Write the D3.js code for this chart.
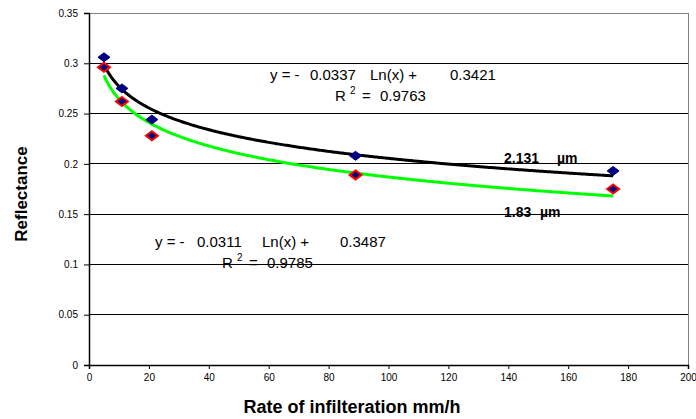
<!DOCTYPE html>
<html>
<head>
<meta charset="utf-8">
<script src="https://cdn.jsdelivr.net/npm/d3@7"></script>
<style>
    body { margin: 0; background: #fff; }
    text { font-family: "Liberation Sans", Arial, sans-serif; }
</style>
</head>
<body>
<div id="chart"></div>
<script>
"use strict";

// Rate of infiltration (mm/h) and reflectance at two wavelengths
const rates = [5, 11, 21, 89, 175];
const refl2131 = [0.306, 0.275, 0.244, 0.208, 0.193];
const refl183 = [0.296, 0.262, 0.228, 0.189, 0.175];

// Logarithmic trend lines, y = a Ln(x) + b, as printed on the chart
const trendBlack = { a: -0.0311, b: 0.3487, r2: 0.9785 };
const trendGreen = { a: -0.0337, b: 0.3421, r2: 0.9763 };

const xTicks = [0, 20, 40, 60, 80, 100, 120, 140, 160, 180, 200];
const yTicks = [0, 0.05, 0.1, 0.15, 0.2, 0.25, 0.3, 0.35];

const width = 696, height = 419;
const margin = { left: 89, right: 8, top: 13, bottom: 54 };

const svg = d3.select("#chart").append("svg")
    .attr("width", width)
    .attr("height", height);

const x = d3.scaleLinear().domain([0, 200]).range([margin.left, width - margin.right]);
const y = d3.scaleLinear().domain([0, 0.35]).range([height - margin.bottom, margin.top]);

// gridlines
svg.append("g").selectAll("line")
    .data(yTicks.filter(d => d > 0 && d < 0.35))
    .enter().append("line")
    .attr("x1", x(0)).attr("x2", x(200))
    .attr("y1", d => y(d)).attr("y2", d => y(d))
    .style("stroke", "#000")
    .style("stroke-width", 1)
    .attr("shape-rendering", "crispEdges");

// plot border (top / right in grey)
svg.append("path")
    .attr("d", `M${x(0)},${y(0.35)}H${x(200)}V${y(0)}`)
    .style("fill", "none")
    .style("stroke", "#808080")
    .style("stroke-width", 1)
    .attr("shape-rendering", "crispEdges");

const xAxis = svg.append("g")
    .attr("transform", `translate(0,${y(0)})`)
    .call(d3.axisBottom(x).tickValues(xTicks).tickSize(4).tickPadding(5).tickFormat(d3.format("d")));

const yAxis = svg.append("g")
    .attr("transform", `translate(${x(0)},0)`)
    .call(d3.axisLeft(y).tickValues(yTicks).tickSize(5).tickPadding(6).tickFormat(d => String(d)));

[xAxis, yAxis].forEach(ax => {
    ax.select(".domain").style("stroke", "#000").style("stroke-width", 1.5);
    ax.selectAll(".tick line").style("stroke", "#000");
    ax.selectAll("text")
        .style("font-family", "'Liberation Sans', Arial, sans-serif")
        .style("font-size", "10px")
        .style("fill", "#000");
});

// trend curves
function trendPoints(t) {
    const xs = d3.range(rates[0], rates[rates.length - 1] + 0.01, 0.5);
    return xs.map(v => [v, t.a * Math.log(v) + t.b]);
}

const line = d3.line()
    .x(d => x(d[0]))
    .y(d => y(d[1]));

svg.append("path")
    .datum(trendPoints(trendGreen))
    .attr("d", line)
    .style("fill", "none")
    .style("stroke", "#00ff00")
    .style("stroke-width", 3);

svg.append("path")
    .datum(trendPoints(trendBlack))
    .attr("d", line)
    .style("fill", "none")
    .style("stroke", "#000")
    .style("stroke-width", 3);

// wide diamond marker, like the spreadsheet one
const wideDiamond = {
    draw(ctx) {
        ctx.moveTo(0, -4.5);
        ctx.lineTo(6, 0);
        ctx.lineTo(0, 4.5);
        ctx.lineTo(-6, 0);
        ctx.closePath();
    }
};
const diamond = d3.symbol().type(wideDiamond);

svg.append("g").selectAll("path")
    .data(rates.map((r, i) => [r, refl183[i]]))
    .enter().append("path")
    .attr("d", diamond)
    .attr("transform", d => `translate(${x(d[0])},${y(d[1])})`)
    .style("fill", "#000080")
    .style("stroke", "#ff0000")
    .style("stroke-width", 2);

svg.append("g").selectAll("path")
    .data(rates.map((r, i) => [r, refl2131[i]]))
    .enter().append("path")
    .attr("d", diamond)
    .attr("transform", d => `translate(${x(d[0])},${y(d[1])})`)
    .style("fill", "#000080")
    .style("stroke", "#000080")
    .style("stroke-width", 1);

// equation labels
function equation(px, py, t, offs) {
    const g = svg.append("g").style("font-size", "15px").style("fill", "#000");
    const eq = g.append("text").attr("y", py);
    eq.append("tspan").attr("x", px).text("y = -");
    eq.append("tspan").attr("x", px + offs[0]).text(Math.abs(t.a).toFixed(4));
    eq.append("tspan").attr("x", px + offs[1]).text("Ln(x) +");
    eq.append("tspan").attr("x", px + offs[2]).text(t.b.toFixed(4));

    const r = g.append("text").attr("y", py + 21);
    r.append("tspan").attr("x", px + offs[3]).text("R");
    r.append("tspan").attr("dy", -7).attr("x", px + offs[3] + 15).style("font-size", "10px").text("2");
    r.append("tspan").attr("dy", 7).attr("x", px + offs[3] + 27).text("=");
    r.append("tspan").attr("x", px + offs[3] + 45).text(t.r2.toFixed(4));
}

equation(270, 80, trendGreen, [40, 100, 180, 65]);
equation(155, 247, trendBlack, [42, 107, 185, 67]);

// wavelength labels
function waveLabel(px, py, value, gap) {
    const t = svg.append("text")
        .attr("y", py)
        .style("font-size", "14px").style("font-weight", "bold");
    t.append("tspan").attr("x", px).text(value);
    t.append("tspan").attr("x", px + gap).text("µm");
}

waveLabel(504, 163, "2.131", 53);
waveLabel(504, 217, "1.83", 36);

// axis titles
svg.append("text")
    .attr("x", 352).attr("y", 413)
    .attr("text-anchor", "middle")
    .style("font-size", "18px").style("font-weight", "bold")
    .text("Rate of infilteration mm/h");

svg.append("text")
    .attr("transform", "translate(27,194) rotate(-90)")
    .attr("text-anchor", "middle")
    .style("font-size", "17px").style("font-weight", "bold")
    .text("Reflectance");
</script>
</body>
</html>
